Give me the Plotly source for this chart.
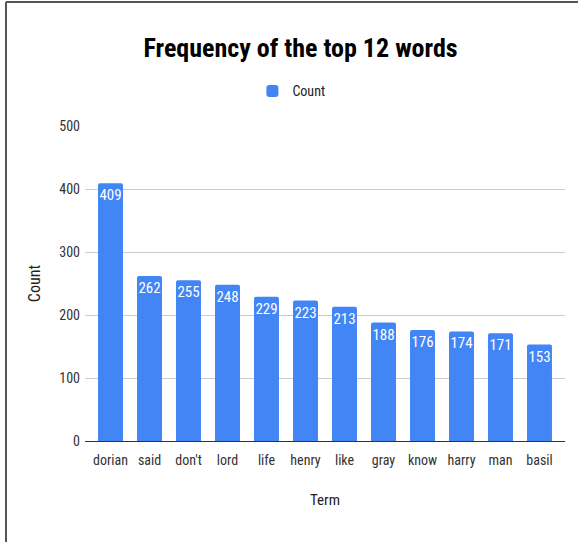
import plotly.graph_objects as go

terms = ["dorian", "said", "don't", "lord", "life", "henry", "like", "gray", "know", "harry", "man", "basil"]
counts = [409, 262, 255, 248, 229, 223, 213, 188, 176, 174, 171, 153]
y_ticks = [0, 100, 200, 300, 400, 500]

FONT = "Liberation Sans Narrow, Arial Narrow, Roboto Condensed, Liberation Sans, Arial, sans-serif"

fig = go.Figure()
fig.add_trace(go.Bar(
    x=terms, y=counts, name="Count",
    marker=dict(color="#4285F4", line=dict(width=0), cornerradius=2),
    text=[str(c) for c in counts],
    textposition="inside", insidetextanchor="end", textangle=0,
    textfont=dict(color="white", size=15, family=FONT),
    showlegend=True,
))

fig.update_layout(
    width=578, height=542,
    margin=dict(l=85, r=13, t=126, b=101),
    paper_bgcolor="white", plot_bgcolor="white",
    bargap=0.36,
    uniformtext=dict(minsize=15, mode="show"),
    title=dict(text="<b>Frequency of the top 12 words</b>", x=0.52, xanchor="center",
               y=0.911, yanchor="middle",
               font=dict(family=FONT, size=26, color="black")),
    legend=dict(orientation="h", x=0.43, xanchor="center", y=1.11, yanchor="middle",
                font=dict(family=FONT, size=14, color="#222"), itemwidth=30),
    font=dict(family=FONT, size=14, color="#333"),
    xaxis=dict(range=[-0.654, 11.654], showline=True, linecolor="#333", linewidth=1,
               ticks="", showgrid=False, ticklabelstandoff=6,
               title=dict(text="Term", font=dict(family=FONT, size=15, color="#222"), standoff=27),
               tickfont=dict(size=14, color="#333")),
    yaxis=dict(range=[0, 500], tickvals=y_ticks, showgrid=True, gridcolor="#cccccc",
               zeroline=False, showline=False, ticks="", ticklabelstandoff=4,
               title=dict(text="Count", font=dict(family=FONT, size=16, color="#222"), standoff=14),
               tickfont=dict(size=14, color="#333")),
    shapes=[
        dict(type="line", xref="paper", yref="paper", x0=-0.1646, x1=1.03, y0=1.3937, y1=1.3937,
             line=dict(color="#555", width=2)),
        dict(type="line", xref="paper", yref="paper", x0=-0.1646, x1=-0.1646, y0=1.3937, y1=-0.33,
             line=dict(color="#555", width=2)),
    ],
)

fig.write_html("out.html")
